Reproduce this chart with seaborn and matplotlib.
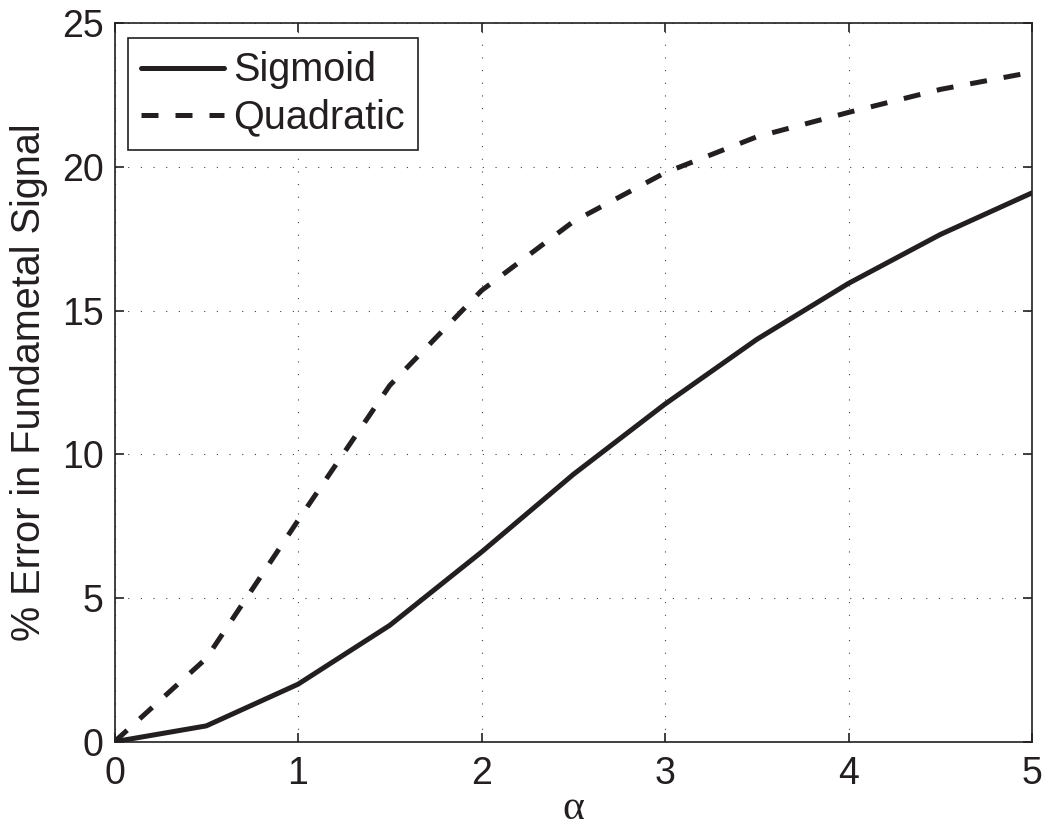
import pandas as pd
import matplotlib
matplotlib.use("Agg")
import matplotlib.pyplot as plt
import seaborn as sns

# values
alpha = [0, 0.5, 1, 1.5, 2, 2.5, 3, 3.5, 4, 4.5, 5]
sigmoid = [0, 0.55, 2.0, 4.05, 6.6, 9.3, 11.75, 14.0, 15.95, 17.65, 19.1]
quadratic = [0, 2.9, 7.7, 12.4, 15.7, 18.1, 19.8, 21.05, 21.9, 22.7, 23.3]
xticks = [0, 1, 2, 3, 4, 5]
yticks = [0, 5, 10, 15, 20, 25]

ink = "#231f20"

sns.set_theme(style="ticks")
plt.rcParams["font.family"] = ["Liberation Sans", "DejaVu Sans"]
plt.rcParams["text.color"] = ink
plt.rcParams["axes.labelcolor"] = ink
plt.rcParams["xtick.color"] = ink
plt.rcParams["ytick.color"] = ink

df = pd.DataFrame({"alpha": alpha, "Sigmoid": sigmoid, "Quadratic": quadratic})

fig = plt.figure(figsize=(10.47, 8.30), dpi=100)
ax = fig.add_axes([0.1094, 0.1064, 0.8763, 0.8655])

sns.lineplot(data=df, x="alpha", y="Sigmoid", ax=ax, color=ink, lw=3.6,
             label="Sigmoid")
sns.lineplot(data=df, x="alpha", y="Quadratic", ax=ax, color=ink, lw=3.6,
             label="Quadratic", linestyle=(0, (3.4, 3.4)))

ax.set_xlim(0, 5)
ax.set_ylim(0, 25)
ax.set_xticks(xticks)
ax.set_yticks(yticks)
ax.grid(True, color="#444444", lw=0.8, linestyle=(0, (1, 10.4)))

for s in ax.spines.values():
    s.set_visible(True)
    s.set_color(ink)
    s.set_linewidth(1.2)
ax.tick_params(direction="in", length=6.5, width=1.2, labelsize=27,
               top=True, right=True)
ax.tick_params(axis="x", pad=10)
ax.tick_params(axis="y", pad=8)

ax.set_xlabel("\u03b1", fontsize=30, family=["Liberation Serif", "DejaVu Serif"],
              va="bottom")
ax.xaxis.set_label_coords(0.5, -0.1205)
ax.set_ylabel("% Error in Fundametal Signal", fontsize=28.5, labelpad=10)

leg = ax.legend(loc="upper left", bbox_to_anchor=(0.015, 0.979),
                borderaxespad=0, fontsize=28.5, fancybox=False, framealpha=1,
                edgecolor=ink, borderpad=0.33, labelspacing=0.23,
                handlelength=2.1, handletextpad=0.23)
leg.get_frame().set_linewidth(1.2)

plt.savefig("out.png", dpi=100)
